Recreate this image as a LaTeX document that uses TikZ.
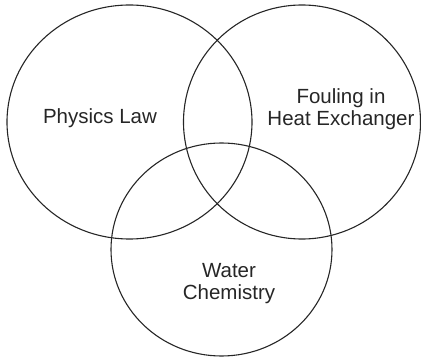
\documentclass[tikz,border=0pt]{standalone}
\usepackage{fontspec}
\setmainfont{Liberation Sans}
\usetikzlibrary{shapes.geometric}
\begin{document}
\begin{tikzpicture}[x=1pt,y=-1pt,
  venn/.style={draw=black!85, line width=1.1pt, ellipse, inner sep=0pt},
  lbl/.style={align=center, font=\fontsize{20.5}{22}\selectfont, text=black!85, inner sep=0pt}]
\useasboundingbox (0,0) rectangle (421,358);
\node[venn, minimum width=245pt, minimum height=234pt] (phys) at (129.5,122) {};
\node[venn, minimum width=237pt, minimum height=234pt] (foul) at (302,122) {};
\node[venn, minimum width=221pt, minimum height=213pt] (water) at (221.5,249.5) {};
\node[lbl] (physl) at (100,118) {Physics Law};
\node[lbl] (foull) at (341,109) {Fouling in\\Heat Exchanger};
\node[lbl] (waterl) at (229,284) {Water\\Chemistry};
\end{tikzpicture}
\end{document}
